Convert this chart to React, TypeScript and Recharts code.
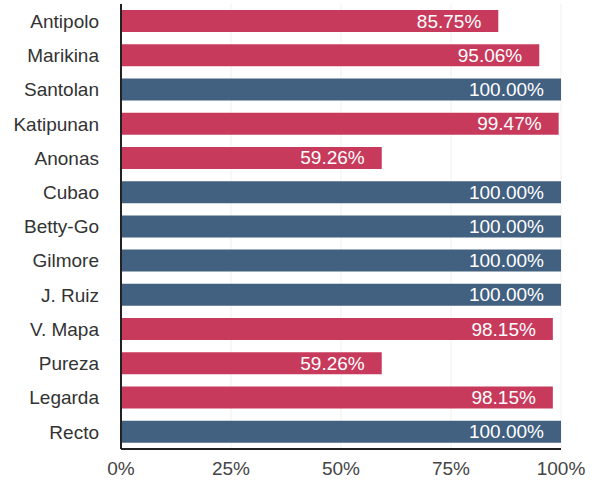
import { BarChart, Bar, XAxis, YAxis, CartesianGrid, Cell, LabelList } from 'recharts';

const stations = ['Antipolo', 'Marikina', 'Santolan', 'Katipunan', 'Anonas', 'Cubao', 'Betty-Go', 'Gilmore', 'J. Ruiz', 'V. Mapa', 'Pureza', 'Legarda', 'Recto'];
const rates = [85.75, 95.06, 100, 99.47, 59.26, 100, 100, 100, 100, 98.15, 59.26, 98.15, 100];
const full = [false, false, true, false, false, true, true, true, true, false, false, false, true];
const xTicks = [0, 25, 50, 75, 100];

const RED = '#c73a5b';
const BLUE = '#42607f';
const FONT = '"Liberation Sans", Arial, sans-serif';

const data = stations.map((name, i) => ({ name, rate: rates[i], full: full[i] }));

const ValueLabel = (props: any) => {
  const { x, y, width, height, value } = props;
  return (
    <text
      x={x + width - 17}
      y={y + height / 2}
      textAnchor="end"
      dominantBaseline="central"
      fill="#ffffff"
      fontSize={19}
      fontFamily={FONT}
    >
      {Number(value).toFixed(2)}%
    </text>
  );
};

export default function App() {
  return (
    <div style={{ position: 'fixed', top: 0, left: 0, background: '#fff' }}>
      <BarChart
        width={595}
        height={490}
        data={data}
        layout="vertical"
        margin={{ top: 4, right: 34, bottom: 0, left: 0 }}
        barSize={22}
      >
        <CartesianGrid horizontal={false} stroke="#f0f0f0" />
        <XAxis
          type="number"
          domain={[0, 100]}
          ticks={xTicks}
          tickFormatter={(v: number) => `${v}%`}
          height={41}
          tickLine={false}
          tickSize={0}
          tickMargin={13}
          axisLine={{ stroke: '#222', strokeWidth: 2 }}
          tick={{ fontSize: 19, fill: '#444', fontFamily: FONT }}
        />
        <YAxis
          type="category"
          dataKey="name"
          width={121}
          tickLine={false}
          tickSize={0}
          tickMargin={22}
          axisLine={{ stroke: '#222', strokeWidth: 2 }}
          tick={{ fontSize: 19, fill: '#333', fontFamily: FONT }}
        />
        <Bar dataKey="rate" isAnimationActive={false}>
          {data.map((d) => (
            <Cell key={d.name} fill={d.full ? BLUE : RED} />
          ))}
          <LabelList dataKey="rate" content={ValueLabel} />
        </Bar>
      </BarChart>
    </div>
  );
}
